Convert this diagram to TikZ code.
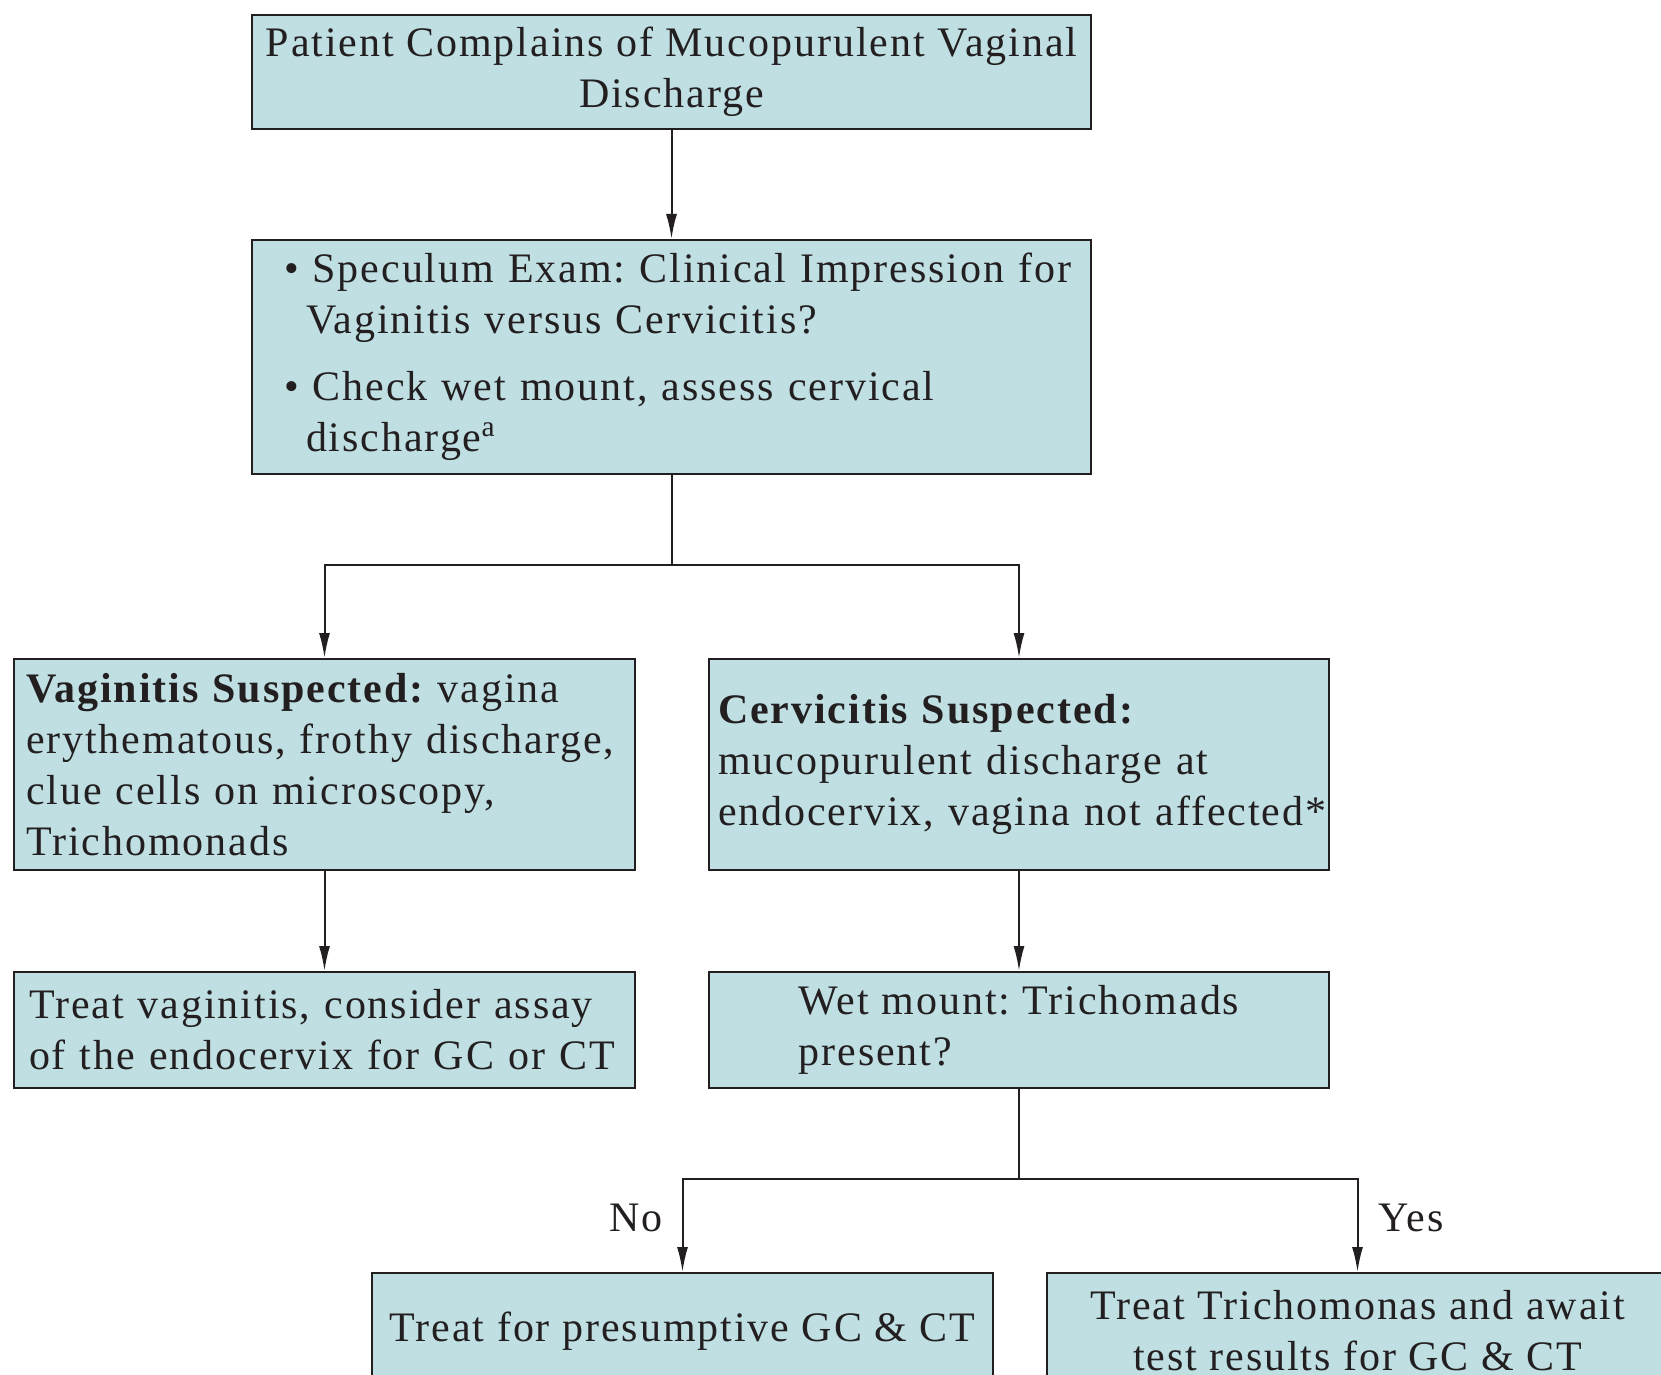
\documentclass[tikz,border=0pt]{standalone}
\usepackage{fontspec}
\setmainfont{Liberation Serif}[LetterSpace=4.6]
\usetikzlibrary{arrows.meta}
\definecolor{boxfill}{RGB}{191,223,226}
\definecolor{ink}{RGB}{35,31,32}
\frenchspacing
\begin{document}
\begin{tikzpicture}[x=0.5pt,y=-0.5pt,
  box/.style={draw=ink, line width=1pt, fill=boxfill, text=ink, inner ysep=0pt,
    font=\fontsize{21}{25.5}\selectfont\frenchspacing},
  conn/.style={draw=ink, line width=1pt},
  arr/.style={conn, -{Latex[length=12.5pt,width=5.5pt]}},
  lbl/.style={text=ink, font=\fontsize{21}{25.5}\selectfont, inner sep=0pt}]
\useasboundingbox (0,0) rectangle (1661,1375);

\node[box, minimum width=419.5pt, minimum height=57pt, align=center] (b1) at (671.5,72)
  {Patient Complains of Mucopurulent Vaginal\\Discharge};

\node[box, minimum height=117pt, inner xsep=16pt, text width=387.5pt, align=left] (b2) at (671.5,357)
  {\mbox{\textbullet\ Speculum Exam: Clinical Impression for}\\
   \hspace*{11pt}Vaginitis versus Cervicitis?\\[8pt]
   \mbox{\textbullet\ Check wet mount, assess cervical}\\
   \hspace*{11pt}discharge\textsuperscript{a}};

\node[box, minimum height=105.5pt, inner xsep=6pt, text width=298.5pt, align=left] (b3) at (324.5,764.5)
  {\mbox{{\bfseries Vaginitis Suspected:} vagina}\\
   \mbox{erythematous, frothy discharge,}\\
   clue cells on microscopy,\\
   Trichomonads};

\node[box, minimum height=105.5pt, inner xsep=4.5pt, text width=301pt, align=left] (b4) at (1019,764.5)
  {{\bfseries Cervicitis Suspected:}\\
   mucopurulent discharge at\\
   \mbox{endocervix, vagina not affected*}};

\node[box, minimum height=58pt, inner xsep=7.5pt, text width=295.5pt, align=left] (b5) at (324.5,1030)
  {\mbox{Treat vaginitis, consider assay}\\
   \mbox{of the endocervix for GC or CT}};

\node[box, minimum height=58pt, minimum width=310pt, align=left] (b6) at (1019,1030)
  {Wet mount: Trichomads\\present?};

\node[box, minimum height=58pt, minimum width=310.5pt, align=center] (b7) at (682.5,1331)
  {Treat for presumptive GC \& CT};

\node[box, minimum height=58pt, minimum width=310.5pt, align=center] (b8) at (1357.5,1331)
  {Treat Trichomonas and await\\test results for GC \& CT};

\coordinate (j1) at (671.5,565);
\coordinate (j2) at (1019,1179);

\draw[arr] (b1) -- (b2);
\draw[conn] (b2) -- (j1);
\draw[arr] (j1) -| (b3.north);
\draw[arr] (j1) -| (b4.north);
\draw[arr] (b3) -- (b5);
\draw[arr] (b4) -- (b6);
\draw[conn] (b6) -- (j2);
\draw[arr] (j2) -| (b7.north);
\draw[arr] (j2) -| (b8.north);

\node[lbl] (no) at (636,1218) {No};
\node[lbl] (yes) at (1411,1218) {Yes};
\end{tikzpicture}
\end{document}
